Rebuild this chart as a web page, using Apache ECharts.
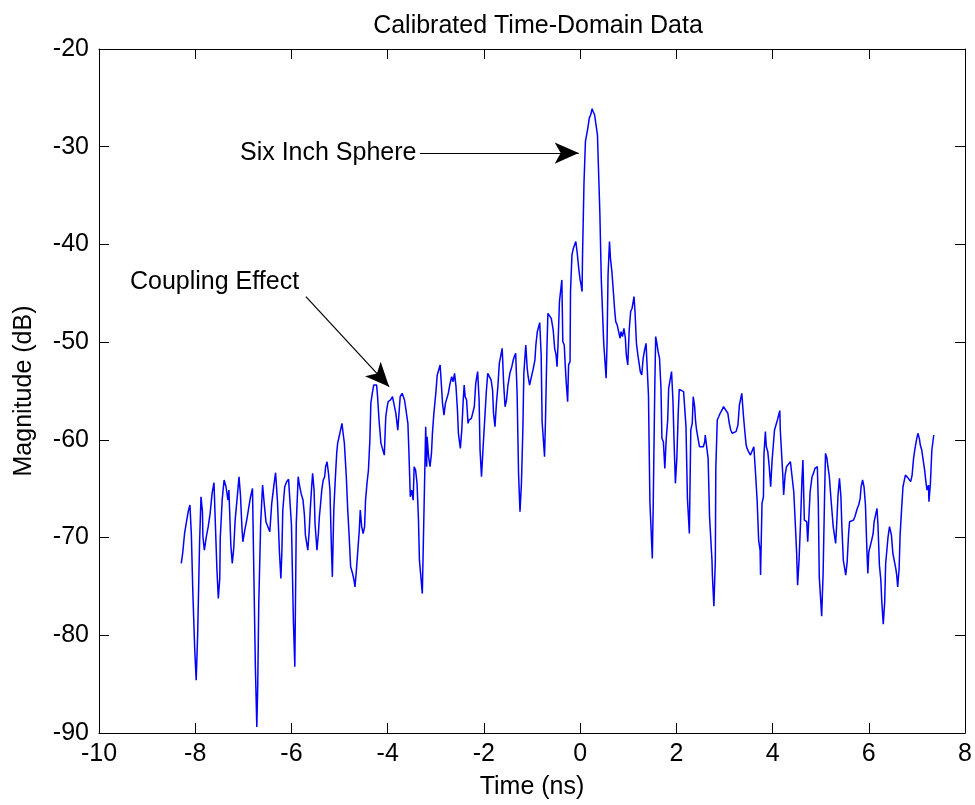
<!DOCTYPE html>
<html>
<head>
<meta charset="utf-8">
<script src="https://cdn.jsdelivr.net/npm/echarts@6/dist/echarts.min.js"></script>
<style>
html,body{margin:0;padding:0;background:#fff;}
#chart{width:975px;height:805px;}
</style>
</head>
<body>
<div id="chart"></div>
<script>
const chartTitle = 'Calibrated Time-Domain Data';
const xName = 'Time (ns)';
const yName = 'Magnitude (dB)';

const timeNs = [
-8.29,-8.26,-8.22,-8.17,-8.14,-8.11,-8.08,-8.05,-8.01,-7.98,-7.95,-7.91,-7.88,-7.85,-7.84,-7.81,-7.77,-7.73,-7.69,-7.65,
-7.61,-7.59,-7.55,-7.52,-7.49,-7.48,-7.44,-7.40,-7.36,-7.32,-7.30,-7.26,-7.23,-7.20,-7.17,-7.12,-7.09,-7.06,-7.03,-7.01,
-6.97,-6.93,-6.89,-6.85,-6.81,-6.79,-6.75,-6.72,-6.70,-6.68,-6.64,-6.60,-6.56,-6.53,-6.49,-6.45,-6.41,-6.36,-6.33,-6.29,
-6.25,-6.22,-6.20,-6.18,-6.14,-6.10,-6.06,-6.02,-6.00,-5.96,-5.93,-5.90,-5.86,-5.84,-5.80,-5.76,-5.73,
-5.71,-5.69,-5.66,-5.63,-5.61,-5.58,-5.56,-5.53,-5.51,-5.49,-5.47,-5.44,-5.42,-5.40,-5.37,-5.34,-5.31,-5.29,-5.26,-5.23,
-5.20,-5.17,-5.15,-5.12,-5.09,-5.06,-5.04,-5.01,-4.98,-4.95,-4.93,-4.90,-4.86,-4.83,-4.80,-4.77,-4.73,-4.70,-4.68,-4.65,
-4.62,-4.59,-4.57,-4.54,-4.51,-4.48,-4.46,-4.43,-4.40,-4.37,-4.35,-4.32,-4.29,-4.23,-4.21,-4.18,-4.14,-4.10,-4.07,-4.04,
-4.01,-3.99,-3.94,-3.90,-3.86,-3.83,-3.79,-3.76,-3.74,-3.70,-3.65,-3.63,-3.58,-3.56,-3.53,-3.50,-3.47,-3.45,-3.42,-3.39,
-3.36,-3.34,-3.28,
-3.21,-3.19,-3.18,-3.15,-3.12,-3.09,-3.07,-3.04,-3.00,-2.97,-2.94,-2.91,-2.89,-2.86,-2.83,-2.80,-2.78,-2.74,-2.71,-2.67,
-2.64,-2.61,-2.58,-2.55,-2.53,-2.50,-2.49,-2.46,-2.43,-2.41,-2.39,-2.36,-2.33,-2.31,-2.26,-2.22,-2.20,-2.17,-2.14,-2.13,
-2.10,-2.08,-2.05,-2.02,-1.99,-1.95,-1.92,-1.88,-1.85,-1.82,-1.80,-1.77,-1.74,-1.71,-1.68,-1.65,-1.62,-1.59,-1.56,-1.53,
-1.50,-1.46,-1.42,-1.39,-1.37,-1.34,-1.31,-1.28,-1.25,-1.22,-1.19,-1.17,-1.13,-1.10,-1.08,-1.05,-1.02,-0.98,-0.94,-0.92,
-0.89,-0.86,-0.84,-0.81,-0.79,-0.77,-0.74,-0.72,-0.69,-0.67,-0.63,-0.60,-0.56,
-0.53,-0.50,-0.48,-0.46,-0.43,-0.40,-0.38,-0.36,-0.33,-0.31,-0.29,-0.26,-0.24,-0.21,-0.20,-0.17,-0.14,-0.11,-0.09,-0.06,
-0.03,0.00,0.02,0.04,0.05,0.08,0.11,0.14,0.16,0.19,0.22,0.25,0.27,0.30,0.33,0.36,0.38,0.41,0.44,0.47,
0.49,0.52,0.54,0.56,0.58,0.61,0.63,0.66,0.69,0.72,0.74,0.77,0.80,0.83,0.85,0.88,0.91,0.94,0.96,0.99,
1.02,1.05,1.08,1.10,1.12,1.14,1.17,1.20,1.23,1.25,1.28,1.31,1.34,1.37,1.39,1.42,1.45,1.48,1.50,1.52,
1.55,1.57,1.59,1.62,1.65,1.68,1.70,1.73,1.76,1.79,1.82,1.84,1.87,1.90,1.93,1.95,1.98,2.01,2.04,
2.06,2.10,2.15,2.19,2.20,2.23,2.26,2.27,2.30,2.33,2.35,2.38,2.40,2.42,2.45,2.48,2.52,2.56,2.59,2.60,
2.63,2.66,2.69,2.71,2.74,2.75,2.78,2.81,2.82,2.85,2.88,2.91,2.95,2.98,3.02,3.07,3.10,3.13,3.16,3.20,
3.24,3.28,3.31,3.34,3.36,3.39,3.42,3.45,3.47,3.50,3.54,3.57,3.61,3.64,3.65,3.68,3.71,3.74,3.75,3.78,
3.81,3.82,3.85,3.87,3.90,3.93,3.96,3.99,4.01,4.04,4.07,4.10,4.12,4.15,4.16,4.18,4.21,4.23,4.26,4.29,
4.33,4.37,4.41,4.44,4.47,4.50,4.52,4.55,4.58,4.61,4.63,
4.66,4.68,4.71,4.73,4.75,4.78,4.81,4.82,4.85,4.88,4.90,4.93,4.95,4.97,5.00,5.02,5.05,5.08,5.10,5.13,
5.15,5.18,5.21,5.24,5.26,5.29,5.31,5.33,5.36,5.39,5.42,5.44,5.47,5.50,5.52,5.55,5.58,5.60,5.64,5.68,
5.71,5.73,5.76,5.79,5.82,5.84,5.87,5.90,5.93,5.96,5.98,6.00,6.03,6.06,6.09,6.11,6.14,6.17,6.19,6.22,
6.25,6.27,6.30,6.33,6.35,6.38,6.40,6.43,6.45,6.47,6.50,6.53,6.56,6.58,6.60,6.63,6.65,6.68,6.71,6.74,
6.76,6.79,6.82,6.85,6.87,6.90,6.93,6.96,6.99,7.02,7.05,7.07,7.10,7.13,7.16,7.19,7.21,7.24,7.25,7.28,
7.31,7.34,7.35
];

const magnitudeDb = [
-72.65,-71.56,-69.51,-68.04,-67.19,-66.67,-69.75,-75.55,-81.52,-84.60,-79.99,-70.60,-65.82,-67.36,-69.92,-71.28,-69.92,-68.89,-67.53,-65.48,
-64.39,-67.36,-73.16,-76.23,-74.18,-70.09,-66.16,-64.11,-64.80,-66.16,-65.14,-70.77,-72.65,-71.11,-68.21,-65.48,-63.77,-65.65,-68.89,-70.43,
-69.23,-68.21,-67.01,-65.82,-64.97,-71.11,-83.23,-89.38,-84.94,-76.92,-68.55,-64.62,-66.84,-68.38,-68.55,-69.40,-66.50,-64.45,-63.36,-66.33,
-71.45,-74.18,-71.62,-67.19,-64.80,-64.28,-64.04,-63.94,-68.72,-78.45,-83.23,-68.55,-63.77,-64.45,-65.48,-66.16,-67.70,
-69.75,-69.92,-71.29,-69.24,-67.19,-64.80,-63.43,-65.14,-68.56,-69.92,-71.29,-69.58,-67.87,-66.85,-65.14,-64.12,-63.78,-62.75,-62.24,-63.43,
-65.14,-70.95,-74.02,-67.19,-64.12,-61.39,-60.36,-59.68,-59.00,-58.31,-59.17,-60.36,-63.78,-67.19,-69.92,-72.99,-73.68,-74.36,-75.04,-73.34,
-71.29,-69.24,-67.19,-68.90,-69.58,-68.90,-66.17,-64.46,-63.09,-60.02,-56.27,-55.24,-54.39,-54.39,-55.58,-57.97,-60.36,-60.36,-61.56,-57.63,
-56.61,-56.09,-55.92,-55.58,-55.58,-57.29,-59.00,-56.95,-55.58,-55.24,-55.92,-56.61,-58.31,-61.04,-65.82,-65.14,-66.17,-62.75,-63.09,-64.46,
-68.21,-72.31,-75.73,
-58.66,-62.75,-59.68,-61.73,-62.75,-61.39,-59.34,-57.29,-55.24,-53.36,-53.19,-52.34,-53.88,-56.27,-57.46,-56.27,-56.10,-55.24,-54.39,-53.54,
-54.05,-53.19,-54.56,-56.95,-59.34,-59.51,-60.88,-59.00,-55.92,-54.39,-55.58,-55.92,-58.31,-57.97,-57.80,-57.63,-56.61,-54.22,-54.39,-53.02,
-55.92,-61.05,-63.78,-61.05,-58.49,-55.07,-53.19,-53.36,-53.88,-54.90,-57.29,-58.66,-56.27,-54.56,-52.17,-52.00,-50.63,-54.22,-56.61,-55.92,
-54.39,-53.19,-52.51,-51.83,-51.49,-51.15,-55.24,-63.44,-67.36,-64.46,-58.83,-53.19,-50.29,-52.68,-53.54,-54.39,-53.71,-52.85,-51.83,-50.29,
-48.93,-48.76,-48.00,-51.32,-58.14,-58.31,-61.73,-57.97,-50.63,-47.05,-47.22,-47.56,-48.76,
-50.63,-51.31,-52.51,-50.29,-45.85,-45.85,-43.63,-49.94,-50.29,-52.33,-54.04,-56.09,-52.33,-51.99,-44.82,-41.07,-40.39,-40.21,-39.70,-40.90,
-42.43,-43.63,-44.14,-44.82,-41.07,-33.73,-29.46,-29.29,-28.09,-27.07,-26.73,-26.11,-26.39,-26.73,-26.90,-28.78,-32.02,-36.80,-43.63,-43.63,
-50.12,-50.12,-53.70,-49.94,-43.12,-39.70,-41.41,-42.78,-44.82,-46.87,-47.90,-48.24,-48.92,-49.60,-48.92,-49.43,-48.58,-49.60,-51.31,-52.33,
-48.75,-46.87,-46.53,-46.70,-45.34,-46.87,-50.12,-51.31,-52.33,-53.02,-53.36,-51.65,-50.80,-50.12,-50.12,-55.41,-66.33,-66.50,-72.14,-66.33,
-55.07,-49.43,-49.94,-50.97,-51.65,-54.72,-59.85,-60.19,-62.92,-59.85,-57.97,-54.72,-54.72,-53.02,-56.09,-59.85,-64.45,-61.89,-57.11,
-54.83,-54.89,-55.06,-55.06,-58.65,-65.99,-65.99,-69.58,-58.99,-58.31,-55.58,-56.60,-58.14,-58.99,-59.84,-60.70,-60.70,-60.70,-60.19,-59.50,
-59.50,-61.89,-67.87,-68.04,-72.31,-74.01,-77.02,-72.31,-62.92,-57.97,-57.63,-57.28,-56.94,-56.60,-56.43,-57.28,-58.31,-58.99,-59.33,-59.33,
-59.16,-58.48,-56.43,-56.26,-55.24,-57.28,-58.99,-60.53,-60.87,-61.21,-61.55,-61.72,-60.70,-60.53,-63.77,-66.33,-70.26,-71.28,-73.84,-66.50,
-65.82,-61.55,-59.16,-60.70,-61.21,-62.75,-64.80,-62.06,-62.06,-58.99,-59.16,-57.97,-58.14,-57.01,-58.99,-59.16,-63.43,-65.65,-63.60,-62.75,
-62.58,-62.23,-62.23,-65.31,-68.38,-71.62,-74.87,-72.31,-68.55,-64.11,-62.06,
-68.21,-68.21,-68.38,-70.43,-68.38,-65.31,-65.31,-63.77,-63.43,-62.92,-62.75,-62.75,-66.50,-74.02,-73.84,-78.04,-73.67,-65.82,-61.38,-61.89,
-62.75,-63.77,-65.82,-65.82,-68.89,-69.06,-70.60,-68.89,-65.65,-63.94,-65.82,-68.89,-72.31,-72.48,-73.84,-72.48,-69.58,-68.38,-68.38,-68.21,
-67.87,-67.53,-67.02,-66.67,-65.99,-64.80,-64.11,-64.80,-66.67,-71.28,-73.67,-71.45,-71.45,-70.26,-69.58,-68.38,-67.70,-67.02,-68.72,-72.82,
-74.36,-76.58,-78.86,-76.58,-72.65,-72.65,-69.92,-68.89,-68.72,-69.75,-71.63,-71.80,-73.16,-73.84,-75.04,-73.16,-69.75,-67.19,-64.80,-64.80,
-63.60,-63.77,-63.94,-63.94,-64.28,-63.60,-61.89,-60.87,-60.02,-59.33,-59.85,-60.53,-61.04,-62.07,-63.09,-64.46,-65.14,-64.63,-66.33,-64.46,
-61.04,-61.04,-59.50
];

// annotations (data coordinates)
const annotationText = ['Six Inch Sphere', 'Coupling Effect'];
const annotationTextAt = [[-3.36, -30.65], [-5.80, -43.9]];
const arrowFrom = [[-3.33, -30.65], [-5.70, -45.34]];
const arrowTo = [[-0.03, -30.65], [-3.97, -54.56]];

const xRange = [-10, 8, 2];
const yRange = [-90, -20, 10];

const FONT = '"Liberation Sans", Arial, Helvetica, sans-serif';
const FS = 25;

const seriesData = timeNs.map((t, i) => [t, magnitudeDb[i]]);

const chart = echarts.init(document.getElementById('chart'), null, {renderer: 'canvas'});

const axisCommon = {
  type: 'value',
  axisLine: {show: true, onZero: false, lineStyle: {color: '#000', width: 1}},
  axisTick: {show: true, inside: true, length: 10, lineStyle: {color: '#000', width: 1}},
  splitLine: {show: false}
};

chart.setOption({
  animation: false,
  backgroundColor: '#fff',
  textStyle: {fontFamily: FONT},
  title: {
    text: chartTitle,
    left: 533,
    top: 9,
    textAlign: 'center',
    textStyle: {fontFamily: FONT, fontSize: FS, fontWeight: 'normal', color: '#000'}
  },
  grid: {left: 99, right: 8, top: 49, bottom: 72, containLabel: false},
  xAxis: [
    Object.assign({}, axisCommon, {
      position: 'bottom', min: xRange[0], max: xRange[1], interval: xRange[2],
      name: xName, nameLocation: 'middle', nameGap: 42,
      nameTextStyle: {fontFamily: FONT, fontSize: FS, color: '#000'},
      axisLabel: {show: true, margin: 9, color: '#000', fontFamily: FONT, fontSize: FS}
    }),
    Object.assign({}, axisCommon, {
      position: 'top', min: xRange[0], max: xRange[1], interval: xRange[2],
      axisLabel: {show: false}
    })
  ],
  yAxis: [
    Object.assign({}, axisCommon, {
      position: 'left', min: yRange[0], max: yRange[1], interval: yRange[2],
      name: yName, nameLocation: 'middle', nameGap: 62,
      nameTextStyle: {fontFamily: FONT, fontSize: FS, color: '#000'},
      axisLabel: {show: true, margin: 10, color: '#000', fontFamily: FONT, fontSize: FS}
    }),
    Object.assign({}, axisCommon, {
      position: 'right', min: yRange[0], max: yRange[1], interval: yRange[2],
      axisLabel: {show: false}
    })
  ],
  series: [
    {
      type: 'line',
      data: seriesData,
      showSymbol: false,
      symbol: 'none',
      lineStyle: {color: '#0000ff', width: 1.5},
      itemStyle: {color: '#0000ff'},
      silent: true,
      markLine: {
        silent: true,
        animation: false,
        symbol: ['none', 'arrow'],
        symbolSize: [16, 24],
        label: {show: false},
        lineStyle: {color: '#000', width: 1.2, type: 'solid', opacity: 1},
        emphasis: {disabled: true},
        data: arrowFrom.map((f, i) => [{coord: f}, {coord: arrowTo[i]}])
      }
    },
    {
      type: 'scatter',
      data: annotationTextAt,
      symbolSize: 0,
      silent: true,
      itemStyle: {opacity: 1, color: '#000'},
      label: {
        show: true,
        position: 'left',
        distance: 2,
        color: '#000',
        opacity: 1,
        fontFamily: FONT,
        fontSize: FS,
        formatter: (p) => annotationText[p.dataIndex]
      }
    }
  ]
});
</script>
</body>
</html>
